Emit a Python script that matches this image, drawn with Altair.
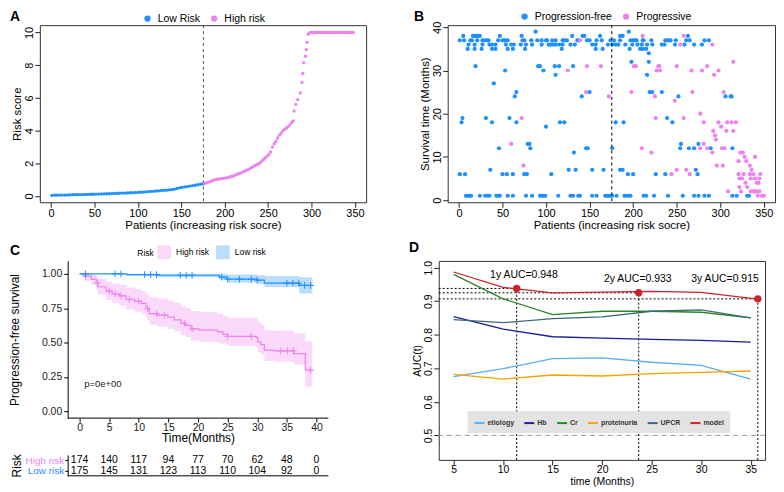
import altair as alt
import pandas as pd

FONT = "Liberation Sans"
BLUE = "#1E90FF"
PINK = "#EE82EE"

# ---------------- Panel A: sorted risk score ----------------
A_low_patient = [1, 4, 7, 10, 13, 16, 19, 22, 25, 28, 31, 34, 37, 40, 43, 46, 49, 52, 55, 58,
                 61, 64, 67, 70, 73, 76, 79, 82, 85, 88, 91, 94, 97, 100, 103, 106, 109, 112, 115, 118,
                 121, 124, 127, 130, 133, 136, 139, 142, 145, 148, 151, 154, 157, 160, 163, 166, 169, 172, 175]
A_low_score = [0.04, 0.05, 0.05, 0.06, 0.06, 0.06, 0.07, 0.07, 0.08, 0.08, 0.08, 0.09, 0.09, 0.10, 0.10, 0.11, 0.11, 0.12, 0.12, 0.13,
               0.13, 0.14, 0.14, 0.15, 0.16, 0.16, 0.17, 0.18, 0.18, 0.19, 0.20, 0.21, 0.21, 0.22, 0.23, 0.24, 0.25, 0.27, 0.28, 0.29,
               0.31, 0.32, 0.34, 0.35, 0.36, 0.38, 0.39, 0.42, 0.46, 0.50, 0.53, 0.56, 0.58, 0.61, 0.64, 0.66, 0.69, 0.72, 0.75]
A_high_patient = [177, 179, 181, 183, 185, 187, 189, 191, 193, 195, 197, 199, 201, 203, 205, 207, 209, 211, 213, 215,
                  217, 219, 221, 223, 225, 227, 229, 231, 233, 235, 237, 239, 241, 243, 245, 247, 249, 251, 253, 255,
                  257, 259, 261, 263, 265, 267, 269, 271, 273, 275, 277, 279,
                  280, 282, 284, 287, 289, 290, 291, 293, 294, 295, 296,
                  298, 300, 302, 304, 306, 308, 310, 312, 314, 316, 318, 320, 322, 324, 326, 328, 330, 332, 334, 336,
                  338, 340, 342, 344, 346, 348]
A_high_score = [0.78, 0.80, 0.85, 0.88, 0.92, 0.97, 1.00, 1.02, 1.04, 1.05, 1.07, 1.08, 1.10, 1.12, 1.15, 1.18, 1.21, 1.25, 1.30, 1.34,
                1.38, 1.42, 1.48, 1.53, 1.57, 1.62, 1.68, 1.74, 1.80, 1.87, 1.92, 1.96, 2.05, 2.15, 2.25, 2.35, 2.45, 2.55, 2.70, 3.00,
                3.20, 3.35, 3.55, 3.72, 3.85, 3.98, 4.08, 4.15, 4.25, 4.35, 4.50, 4.60,
                5.20, 5.60, 5.90, 6.30, 6.95, 7.50, 8.15, 8.55, 8.95, 9.40, 9.90,
                10.0, 10.0, 10.0, 10.0, 10.0, 10.0, 10.0, 10.0, 10.0, 10.0, 10.0, 10.0, 10.0, 10.0, 10.0, 10.0, 10.0, 10.0, 10.0, 10.0,
                10.0, 10.0, 10.0, 10.0, 10.0, 10.0]
A_groups = ["Low Risk", "High risk"]
CUTOFF = 175.5

# ---------------- Panel B: survival time by patient ----------------
B_free = {
    39: [88, 195],
    38: [5, 16, 18, 20, 22, 24, 47, 72, 130, 142, 144, 162, 185, 188, 263],
    37: [1, 6, 13, 15, 21, 27, 29, 32, 34, 45, 50, 52, 53, 56, 73, 75, 83, 90, 95, 100, 101, 107, 111, 119, 121,
         124, 136, 137, 147, 150, 158, 164, 174, 178, 185, 197, 200, 202, 204, 211, 212, 221, 237, 239, 241, 243,
         249, 261, 265, 282, 287],
    36: [11, 18, 27, 35, 38, 42, 54, 60, 63, 71, 77, 84, 95, 103, 105, 108, 111, 115, 119, 128, 133, 153, 157,
         171, 176, 180, 183, 191, 199, 205, 210, 216, 222, 233, 236, 248, 259, 270, 279],
    35: [10, 18, 26, 38, 42, 56, 62, 76, 118, 157, 165, 196, 208, 211, 215],
    34: [218],
    32: [198, 218],
    31: [19, 91, 93, 110, 115, 131],
    30: [53, 97],
    29: [111, 216],
    27: [40],
    25: [66, 150, 219, 222, 233],
    24: [64, 141, 252, 306, 312, 313],
    19: [4, 31, 58, 239],
    18: [3, 38, 66, 116, 121, 180, 189, 245],
    17: [100],
    13: [79, 81, 255, 275],
    12: [46, 82, 146, 148, 176, 254, 264, 270, 289, 314],
    11: [132],
    7: [36, 126, 134, 153, 166, 185, 188, 272],
    6: [1, 7, 50, 55, 62, 75, 78, 106, 194, 200, 226, 237, 274],
    1: [8, 10, 12, 14, 24, 30, 33, 35, 43, 45, 47, 56, 62, 77, 84, 93, 95, 97, 99, 114, 128, 131, 137, 139,
        153, 158, 168, 170, 172, 174, 176, 181, 190, 192, 195, 197, 212, 215, 224, 240, 257, 270, 275, 282,
        287, 314, 319, 331, 333],
}
B_prog = {
    38: [211, 258], 37: [139], 36: [254, 291], 32: [315],
    31: [147, 163, 201, 203, 229, 230, 250, 285],
    30: [125, 227, 231, 267, 279, 298], 29: [293],
    25: [146, 198, 268, 304], 24: [172, 225], 23: [248], 20: [277],
    19: [72, 226, 258], 18: [281, 298, 308, 313, 318], 17: [301],
    16: [292, 307, 315], 15: [294], 14: [295], 13: [60, 281],
    12: [210, 277, 285, 302, 305], 11: [221, 291, 323, 326],
    10: [328, 340], 9: [321, 330], 8: [74, 296, 303, 334], 7: [250, 261, 336],
    6: [244, 265, 321, 327, 334, 338, 346], 5: [322, 325, 335, 340, 345],
    4: [329, 342, 344], 3: [322, 331], 2: [309, 324, 335, 338, 340, 342, 345],
    1: [343, 348, 350],
}
B_groups = ["Progression-free", "Progressive"]

# ---------------- Panel C: Kaplan-Meier ----------------
C_high_time = [0, 0.8, 2.0, 2.8, 3.1, 4.5, 5.5, 6.7, 7.9, 9.3, 10.4, 11.2, 11.5, 11.8, 13.2, 14.9, 16.0, 17.1,
               17.9, 18.8, 20.2, 23.3, 24.2, 25.0, 29.8, 30.1, 30.6, 31.2, 32.9, 36.2, 38.1, 39.3]
C_high_surv = [1.0, 0.983, 0.96, 0.935, 0.906, 0.875, 0.855, 0.84, 0.815, 0.80, 0.785, 0.76, 0.745, 0.71, 0.70,
               0.685, 0.665, 0.64, 0.625, 0.60, 0.59, 0.58, 0.56, 0.545, 0.537, 0.505, 0.485, 0.445, 0.44, 0.42, 0.30, 0.30]
C_high_upper = [1.0, 1.0, 0.995, 0.98, 0.965, 0.945, 0.93, 0.92, 0.90, 0.89, 0.875, 0.855, 0.845, 0.83, 0.82,
                0.805, 0.79, 0.765, 0.75, 0.73, 0.72, 0.71, 0.695, 0.68, 0.675, 0.65, 0.63, 0.59, 0.585, 0.565, 0.51, 0.51]
C_high_lower = [1.0, 0.95, 0.92, 0.885, 0.85, 0.81, 0.79, 0.77, 0.74, 0.725, 0.71, 0.68, 0.665, 0.63, 0.615,
                0.60, 0.58, 0.555, 0.54, 0.515, 0.505, 0.495, 0.49, 0.475, 0.465, 0.43, 0.41, 0.365, 0.36, 0.34, 0.18, 0.18]
C_low_time = [0, 8.0, 13.2, 23.6, 24.9, 29.9, 31.2, 37.1, 39.3]
C_low_surv = [1.0, 0.995, 0.99, 0.976, 0.962, 0.955, 0.933, 0.916, 0.916]
C_low_upper = [1.0, 1.0, 1.0, 1.0, 0.995, 0.99, 0.985, 0.975, 0.975]
C_low_lower = [1.0, 0.985, 0.975, 0.955, 0.935, 0.925, 0.905, 0.857, 0.857]
C_high_censor = [1, 3, 5, 6, 7, 8.4, 10, 11.5, 13, 14.3, 17.7, 19, 25, 29, 34, 35.1, 36.1, 39]
C_low_censor = [1, 6, 7, 11, 12, 13, 17, 18, 19, 24, 25, 27, 29, 30, 35, 36, 37, 38, 39]
C_groups = ["High risk", "Low risk"]
C_table_time = [0, 5, 10, 15, 20, 25, 30, 35, 40]
C_table_high = [174, 140, 117, 94, 77, 70, 62, 48, 0]
C_table_low = [175, 145, 131, 123, 113, 110, 104, 92, 0]
C_pvalue = "p=0e+00"
C_XRANGE = [-2, 42]

# ---------------- Panel D: time-dependent AUC ----------------
D_time = [5, 10, 15, 20, 25, 30, 35]
D_model_time = [5, 10, 15, 20, 25, 30, 35.72]
D_etiology = [0.675, 0.699, 0.729, 0.731, 0.718, 0.709, 0.668]
D_hb = [0.854, 0.817, 0.794, 0.790, 0.786, 0.783, 0.778]
D_cr = [0.980, 0.907, 0.860, 0.870, 0.870, 0.867, 0.850]
D_proteinuria = [0.682, 0.668, 0.680, 0.677, 0.684, 0.688, 0.692]
D_upcr = [0.845, 0.836, 0.848, 0.853, 0.870, 0.874, 0.850]
D_model = [0.987, 0.941, 0.925, 0.927, 0.929, 0.926, 0.906]
D_names = ["etiology", "Hb", "Cr", "proteinuria", "UPCR", "model"]
D_colors = ["#58AEF2", "#1C1C96", "#2A862A", "#F5A300", "#3E6878", "#CC2229"]
D_mark_time = [11.37, 23.69, 35.72]
D_mark_auc = [0.938, 0.925, 0.907]
D_label = ["1y AUC=0.948", "2y AUC=0.933", "3y AUC=0.915"]
D_label_time = [12.1, 23.6, 32.4]
D_label_auc = [0.978, 0.965, 0.965]
D_XDOM = [3.5, 36.45]
D_YDOM = [0.427, 1.02]

DEBUG = False


# ---------------- helpers ----------------
def r_axis(title, values, vertical=False, size=11, tsize=11.5):
    kw = dict(title=title, values=values, grid=False, domain=False, ticks=True, tickSize=5,
              tickColor="#222", labelColor="black", labelFont=FONT, labelFontSize=size,
              titleFont=FONT, titleFontSize=tsize, titleFontWeight="normal", titleColor="black",
              labelPadding=0, labelOverlap=False)
    if vertical:
        kw.update(labelAngle=270, labelAlign="center", labelBaseline="bottom", titlePadding=1)
    else:
        kw.update(titlePadding=1)
    return alt.Axis(**kw)


def letter(ch, dx, dy):
    return alt.Chart(pd.DataFrame({"t": [ch]})).mark_text(
        font=FONT, fontSize=14, fontWeight="bold", align="left", baseline="alphabetic", color="black"
    ).encode(text="t:N", x=alt.value(dx), y=alt.value(dy))


def frame(left, top, right, bottom):
    # invisible layout frame: fixes the space each panel takes in the grid
    return alt.Chart(pd.DataFrame({"f": [0]})).mark_rect(
        fill=None, stroke="red" if DEBUG else "white", strokeOpacity=0.7 if DEBUG else 0, strokeWidth=1).encode(
        x=alt.value(left), y=alt.value(top), x2=alt.value(right), y2=alt.value(bottom))


def indep(c):
    return c.resolve_scale(color="independent", x="independent", y="independent").resolve_legend(
        color="independent")


BOX = alt.ViewBackground(stroke="#333", strokeWidth=1)

# ---------------- build A ----------------
WA, HA = 328, 178
dfA = pd.DataFrame({
    "patient": A_low_patient + A_high_patient,
    "score": A_low_score + A_high_score,
    "group": [A_groups[0]] * len(A_low_patient) + [A_groups[1]] * len(A_high_patient),
})
xAB = alt.Scale(domain=[-12.9, 362.9], nice=False, zero=False)
xA_axis = r_axis("Patients (increasing risk socre)", [0, 50, 100, 150, 200, 250, 300, 350])
yA = alt.Scale(domain=[-0.38, 10.45], nice=False, zero=False)
yA_axis = r_axis("Risk score", [0, 2, 4, 6, 8, 10], vertical=True)
ptsA = alt.Chart(dfA).mark_circle(size=11, opacity=1).encode(
    x=alt.X("patient:Q", scale=xAB, axis=xA_axis),
    y=alt.Y("score:Q", scale=yA, axis=yA_axis),
    color=alt.Color("group:N", scale=alt.Scale(domain=A_groups, range=[BLUE, PINK]),
                    legend=alt.Legend(title=None, orient="none", direction="horizontal", legendX=103,
                                      legendY=-12, symbolType="circle", symbolSize=40, labelFont=FONT,
                                      labelFontSize=10.5, columnPadding=8, labelOffset=5)),
)
cutA = alt.Chart(pd.DataFrame({"cut": [CUTOFF]})).mark_rule(color="#555", strokeDash=[3, 3], strokeWidth=1).encode(
    x=alt.X("cut:Q", scale=xAB, axis=xA_axis))
chartA = alt.layer(frame(-31, -15, WA + 40, HA + 32), cutA, ptsA, letter("A", -30, -4)).properties(
    width=WA, height=HA, view=BOX)

# ---------------- build B ----------------
WB, HB = 329, 178
rows = []
for status, d in ((B_groups[0], B_free), (B_groups[1], B_prog)):
    for yv, xs in d.items():
        for xv in xs:
            rows.append({"patient": xv, "time": yv, "status": status})
dfB = pd.DataFrame(rows)
yB = alt.Scale(domain=[-0.5, 40.5], nice=False, zero=False)
yB_axis = r_axis("Survival time (Months)", [0, 10, 20, 30, 40], vertical=True)
ptsB = alt.Chart(dfB).mark_circle(size=18, opacity=1).encode(
    x=alt.X("patient:Q", scale=xAB, axis=xA_axis),
    y=alt.Y("time:Q", scale=yB, axis=yB_axis),
    color=alt.Color("status:N", scale=alt.Scale(domain=B_groups, range=[BLUE, PINK]),
                    legend=alt.Legend(title=None, orient="none", direction="horizontal", legendX=72,
                                      legendY=-14, symbolType="circle", symbolSize=40, labelFont=FONT,
                                      labelFontSize=10.5, columnPadding=8, labelOffset=5)),
)
cutB = alt.Chart(pd.DataFrame({"cut": [CUTOFF]})).mark_rule(color="black", strokeDash=[3, 3], strokeWidth=1).encode(
    x=alt.X("cut:Q", scale=xAB, axis=xA_axis))
chartB = alt.layer(frame(-40, -15, WB, HB + 32), ptsB, cutB, letter("B", -34, -4)).properties(
    width=WB, height=HB, view=BOX)

# ---------------- build C (plot area widened to the left by SH px; axes moved back in) ----------------
SH = 28
WC0, HC = 262, 158
WC = WC0 + SH
px_per_unit = WC0 / (C_XRANGE[1] - C_XRANGE[0])
xC = alt.Scale(domain=[C_XRANGE[0] - SH / px_per_unit, C_XRANGE[1]], nice=False, zero=False)
yC = alt.Scale(domain=[-0.05, 1.094], nice=False, zero=False)
colC = alt.Scale(domain=C_groups, range=[PINK, BLUE])

dfC = pd.DataFrame({
    "time": C_high_time + C_low_time,
    "surv": C_high_surv + C_low_surv,
    "upper": C_high_upper + C_low_upper,
    "lower": C_high_lower + C_low_lower,
    "group": [C_groups[0]] * len(C_high_time) + [C_groups[1]] * len(C_low_time),
})


def step_at(times, surv, t):
    v = surv[0]
    for tt, s in zip(times, surv):
        if tt <= t:
            v = s
    return v


cens_rows = [{"time": t, "surv": step_at(C_high_time, C_high_surv, t), "group": C_groups[0]} for t in C_high_censor]
cens_rows += [{"time": t, "surv": step_at(C_low_time, C_low_surv, t), "group": C_groups[1]} for t in C_low_censor]
dfCens = pd.DataFrame(cens_rows)

gg = dict(grid=False, ticks=True, tickColor="black", tickSize=4, labelFont=FONT, labelFontSize=10.5,
          labelColor="#222", titleFont=FONT, titleFontSize=12, titleFontWeight="normal", titleColor="black")
xC_axis = alt.Axis(title="Time(Months)", values=C_table_time, titlePadding=0, labelPadding=0, domain=False,
                   titleX=SH + WC0 / 2, **gg)
yC_axis = alt.Axis(title="Progression-free survival", values=[0, 0.25, 0.5, 0.75, 1.0], format=".2f",
                   titlePadding=20, labelPadding=2, domain=True, domainColor="black", offset=-SH, **gg)
band = alt.Chart(dfC).mark_area(interpolate="step-after", opacity=0.3).encode(
    x=alt.X("time:Q", scale=xC, axis=xC_axis),
    y=alt.Y("lower:Q", scale=yC, axis=yC_axis), y2="upper:Q",
    color=alt.Color("group:N", scale=colC,
                    legend=alt.Legend(title="Risk", titleOrient="left", orient="none", direction="horizontal",
                                      legendX=70 + SH, legendY=-16, symbolType="square", symbolSize=150,
                                      labelFont=FONT, labelFontSize=8.5, titleFont=FONT, titleFontSize=8.5,
                                      titleFontWeight="normal", columnPadding=3, titlePadding=3, labelOffset=5)),
)
lineC = alt.Chart(dfC).mark_line(interpolate="step-after", strokeWidth=1.2).encode(
    x=alt.X("time:Q", scale=xC, axis=xC_axis),
    y=alt.Y("surv:Q", scale=yC, axis=yC_axis),
    color=alt.Color("group:N", scale=colC, legend=None),
)
censC = alt.Chart(dfCens).mark_point(shape="M-1,0L1,0M0,-1L0,1", size=45, strokeWidth=1, filled=False, opacity=1).encode(
    x=alt.X("time:Q", scale=xC, axis=xC_axis),
    y=alt.Y("surv:Q", scale=yC, axis=yC_axis),
    color=alt.Color("group:N", scale=colC, legend=None),
)
ptext = alt.Chart(pd.DataFrame({"x": [0.8], "y": [0.2], "t": [C_pvalue]})).mark_text(
    align="left", font=FONT, fontSize=9.5, color="#222").encode(
    x=alt.X("x:Q", scale=xC, axis=xC_axis), y=alt.Y("y:Q", scale=yC, axis=yC_axis), text="t:N")
xline = alt.Chart(pd.DataFrame({"x0": [C_XRANGE[0]], "x1": [C_XRANGE[1]], "y": [-0.05]})).mark_rule(
    color="black", strokeWidth=1).encode(
    x=alt.X("x0:Q", scale=xC, axis=xC_axis), x2="x1:Q", y=alt.Y("y:Q", scale=yC, axis=yC_axis))
chartC = alt.layer(frame(-31, -25, WC + 50, HC + 30), band, lineC, censC, ptext, xline,
                   letter("C", -30, -6)).properties(width=WC, height=HC)

HT = 21
dfT = pd.DataFrame({
    "time": C_table_time * 2,
    "n": C_table_high + C_table_low,
    "group": [C_groups[0]] * len(C_table_time) + [C_groups[1]] * len(C_table_time),
})
xT_axis = alt.Axis(title=None, labels=False, ticks=False, domain=False, grid=False)
table = alt.Chart(dfT).mark_text(font=FONT, fontSize=10.5, color="black").encode(
    x=alt.X("time:Q", scale=xC, axis=xT_axis),
    y=alt.Y("group:N", scale=alt.Scale(domain=C_groups, paddingInner=0, paddingOuter=0),
            axis=alt.Axis(title="Risk", grid=False, domain=True, domainColor="black", ticks=True,
                          tickColor="black", tickSize=3, labelFont=FONT, labelFontSize=10, offset=-SH,
                          labelColor={"condition": {"test": "datum.value == 'High risk'", "value": PINK},
                                      "value": BLUE},
                          titleFont=FONT, titleFontSize=12, titleFontWeight="normal", titleColor="black",
                          labelPadding=1, titlePadding=2)),
    text="n:Q",
)
tline = alt.Chart(pd.DataFrame({"x0": [C_XRANGE[0]], "x1": [C_XRANGE[1]]})).mark_rule(
    color="black", strokeWidth=1).encode(
    x=alt.X("x0:Q", scale=xC, axis=xT_axis), x2="x1:Q", y=alt.value(HT))
tableC = alt.layer(frame(-31, -7, WC + 50, HT + 3), table, tline).properties(width=WC, height=HT)

blockC = indep(alt.vconcat(chartC, tableC, spacing=0))

# ---------------- build D ----------------
WD, HD = 328, 200
drows = []
series = [D_etiology, D_hb, D_cr, D_proteinuria, D_upcr]
for name, vals in zip(D_names[:5], series):
    for t, v in zip(D_time, vals):
        drows.append({"time": t, "auc": v, "marker": name})
for t, v in zip(D_model_time, D_model):
    drows.append({"time": t, "auc": v, "marker": "model"})
dfD = pd.DataFrame(drows)
dfM = pd.DataFrame({"t": D_mark_time, "auc": D_mark_auc, "x0": [D_XDOM[0]] * 3, "y0": [D_YDOM[0]] * 3})
dfL = pd.DataFrame({"t": D_label_time, "auc": D_label_auc, "label": D_label})

xD = alt.Scale(domain=D_XDOM, nice=False, zero=False)
yD = alt.Scale(domain=D_YDOM, nice=False, zero=False)
xD_axis = r_axis("time (Months)", D_time, size=10.5, tsize=10.5)
yD_axis = r_axis("AUC(t)", [0.5, 0.6, 0.7, 0.8, 0.9, 1.0], vertical=True, size=10.5, tsize=10.5)

half = alt.Chart(pd.DataFrame({"y": [0.5]})).mark_rule(color="#999", strokeDash=[5, 4], strokeWidth=1).encode(
    y=alt.Y("y:Q", scale=yD, axis=yD_axis))
linesD = alt.Chart(dfD).mark_line(strokeWidth=1.3).encode(
    x=alt.X("time:Q", scale=xD, axis=xD_axis),
    y=alt.Y("auc:Q", scale=yD, axis=yD_axis),
    color=alt.Color("marker:N", scale=alt.Scale(domain=D_names, range=D_colors),
                    legend=alt.Legend(title=None, orient="none", direction="horizontal", legendX=29,
                                      legendY=151, fillColor="#E3E3E3", padding=6, symbolType="stroke",
                                      symbolSize=100, symbolStrokeWidth=2, labelFont=FONT,
                                      labelFontSize=7, labelFontWeight="bold", labelColor="#333",
                                      columnPadding=6, labelOffset=2)),
)
hdot = alt.Chart(dfM).mark_rule(color="black", strokeDash=[2, 2], strokeWidth=1).encode(
    x=alt.X("x0:Q", scale=xD, axis=xD_axis), x2="t:Q", y=alt.Y("auc:Q", scale=yD, axis=yD_axis))
vdot = alt.Chart(dfM).mark_rule(color="black", strokeDash=[2, 2], strokeWidth=1).encode(
    x=alt.X("t:Q", scale=xD, axis=xD_axis), y=alt.Y("y0:Q", scale=yD, axis=yD_axis), y2="auc:Q")
dots = alt.Chart(dfM).mark_circle(size=55, color="#CC2229", opacity=1).encode(
    x=alt.X("t:Q", scale=xD, axis=xD_axis), y=alt.Y("auc:Q", scale=yD, axis=yD_axis))
labels = alt.Chart(dfL).mark_text(font=FONT, fontSize=10.5, color="black").encode(
    x=alt.X("t:Q", scale=xD, axis=xD_axis), y=alt.Y("auc:Q", scale=yD, axis=yD_axis), text="label:N")
chartD = alt.layer(frame(-60, -25, WD + 4, HD + 27), half, hdot, vdot, linesD, dots, labels,
                   letter("D", -30, -9)).properties(width=WD, height=HD, view=BOX)

row1 = indep(alt.hconcat(chartA, chartB, spacing=0))
row2 = indep(alt.hconcat(blockC, chartD, spacing=0))
chart = indep(alt.vconcat(row1, row2, spacing=0)).properties(padding=0)
chart = chart.configure(font=FONT).configure_view(stroke=None)

chart.save("out.html", embed_options={"renderer": "svg", "actions": False})
